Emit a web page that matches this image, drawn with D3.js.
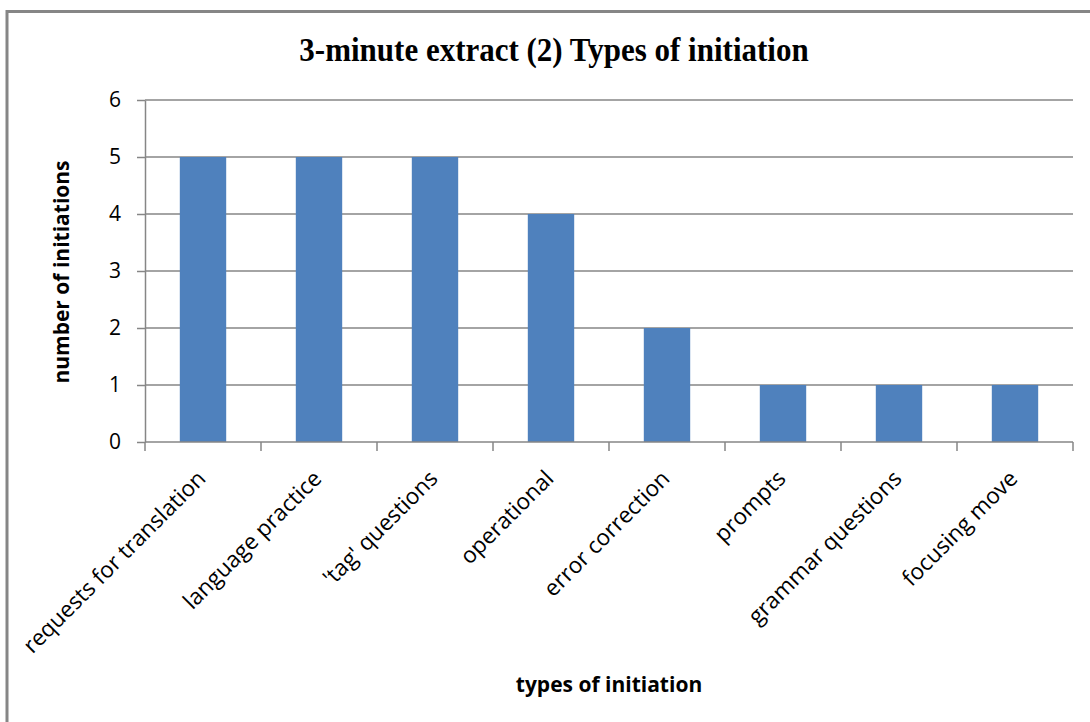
<!DOCTYPE html>
<html>
<head>
    <title></title>
    <meta charset="utf-8" />
    <script src="https://cdn.jsdelivr.net/npm/d3@7"></script>
    <style>
        body { margin: 0; background: #fff; }
        .bar { fill: #4f81bd; }
        .grid line { stroke: #868686; stroke-width: 1.5; }
        .axis path, .axis line { stroke: #868686; stroke-width: 1.5; }
        .axis text { font-family: "Open Sans", sans-serif; fill: #000; }
    </style>
</head>
<body>
    <script>
        var categories = ['requests for translation', 'language practice', "'tag' questions", 'operational',
            'error correction', 'prompts', 'grammar questions', 'focusing move'];
        var values = [5, 5, 5, 4, 2, 1, 1, 1];
        var yTicks = [0, 1, 2, 3, 4, 5, 6];

        var width = 1090, height = 722;
        var plotLeft = 145, plotRight = 1073, plotTop = 100, plotBottom = 442;

        var svg = d3.select('body').append('svg').attr('width', width).attr('height', height);

        // frame (only top and left edges visible)
        svg.append('line').attr('x1', 7).attr('y1', 11.5).attr('x2', width).attr('y2', 11.5)
            .attr('stroke', '#868686').attr('stroke-width', 3);
        svg.append('line').attr('x1', 7).attr('y1', 10).attr('x2', 7).attr('y2', height)
            .attr('stroke', '#868686').attr('stroke-width', 3);

        var x = d3.scaleBand().domain(categories).range([plotLeft, plotRight]).paddingInner(0.6).paddingOuter(0.3);
        var y = d3.scaleLinear().domain([0, 6]).range([plotBottom, plotTop]);

        // gridlines
        svg.append('g').attr('class', 'grid')
            .selectAll('line').data(yTicks.filter(function (d) { return d > 0; })).enter()
            .append('line')
            .attr('x1', plotLeft).attr('x2', plotRight)
            .attr('y1', function (d) { return y(d); })
            .attr('y2', function (d) { return y(d); });

        // bars
        svg.selectAll('.bar').data(values).enter()
            .append('rect')
            .attr('class', 'bar')
            .attr('x', function (d, i) { return x(categories[i]); })
            .attr('width', x.bandwidth())
            .attr('y', function (d) { return y(d); })
            .attr('height', function (d) { return y(0) - y(d); });

        // y axis
        var yAxis = svg.append('g').attr('class', 'axis')
            .attr('transform', 'translate(' + plotLeft + ',0)')
            .call(d3.axisLeft(y).tickValues(yTicks).tickFormat(d3.format('d'))
                .tickSize(8).tickSizeOuter(0).tickPadding(16));
        yAxis.selectAll('text').style('font-size', '21px');

        // x axis with ticks on category boundaries
        var step = x.step();
        var boundaries = d3.range(categories.length + 1).map(function (i) { return plotLeft + i * step; });
        var xAxisG = svg.append('g').attr('class', 'axis');
        xAxisG.append('line').attr('x1', plotLeft).attr('x2', plotRight).attr('y1', plotBottom).attr('y2', plotBottom);
        xAxisG.selectAll('.tk').data(boundaries).enter()
            .append('line').attr('class', 'tk')
            .attr('x1', function (d) { return d; }).attr('x2', function (d) { return d; })
            .attr('y1', plotBottom).attr('y2', plotBottom + 9);

        xAxisG.selectAll('.lbl').data(categories).enter()
            .append('text').attr('class', 'lbl')
            .attr('text-anchor', 'end')
            .style('font-size', '22.5px')
            .attr('transform', function (d) {
                return 'translate(' + (x(d) + x.bandwidth() / 2 + 4) + ',' + (plotBottom + 38) + ') rotate(-45)';
            })
            .text(function (d) { return d; });

        // title
        svg.append('text')
            .attr('transform', 'translate(554,61) scale(1,1.12)')
            .attr('text-anchor', 'middle')
            .style('font-family', '"Liberation Serif", serif')
            .style('font-weight', 'bold')
            .style('font-size', '31px')
            .text('3-minute extract (2) Types of initiation');

        // axis titles
        svg.append('text')
            .attr('transform', 'translate(69,272) rotate(-90)')
            .attr('text-anchor', 'middle')
            .style('font-family', '"Open Sans", sans-serif')
            .style('font-weight', 'bold')
            .style('font-size', '21px')
            .text('number of initiations');

        svg.append('text')
            .attr('x', 609).attr('y', 692)
            .attr('text-anchor', 'middle')
            .style('font-family', '"Open Sans", sans-serif')
            .style('font-weight', 'bold')
            .style('font-size', '21px')
            .text('types of initiation');
    </script>
</body>
</html>
